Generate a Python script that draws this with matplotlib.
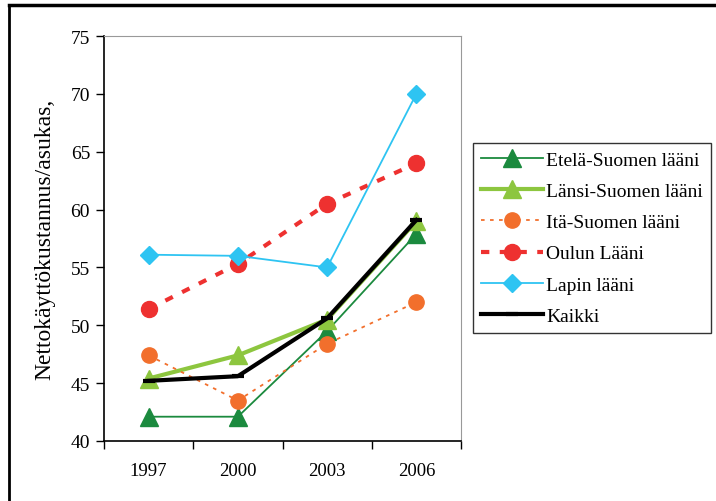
import numpy as np
import matplotlib
matplotlib.use('Agg')
from matplotlib import pyplot as plt
from matplotlib.lines import Line2D

plt.rcParams['font.family'] = ['Liberation Serif', 'DejaVu Serif']

# Vuodet ja läänien arvot
vuodet = ['1997', '2000', '2003', '2006']
etela = [42.1, 42.1, 49.5, 57.9]
lansi = [45.4, 47.4, 50.5, 59.0]
ita = [47.4, 43.5, 48.4, 52.0]
oulu = [51.4, 55.3, 60.5, 64.0]
lappi = [56.1, 56.0, 55.0, 70.0]
kaikki = [45.2, 45.6, 50.6, 59.1]

fig = plt.figure(figsize=(7.16, 5.02), dpi=100)
ax = fig.add_axes([104 / 716, 1 - 442 / 502, 357 / 716, 405 / 502])

x = np.arange(len(vuodet))

ax.plot(x, etela, color='#1b8a3e', lw=1.3, marker='^', ms=12.5, label='Etelä-Suomen lääni')
ax.plot(x, lansi, color='#8dc63f', lw=3, marker='^', ms=12.5, label='Länsi-Suomen lääni')
ax.plot(x, ita, color='#f26f2c', lw=1.3, ls=(0, (2, 3)), marker='o', ms=11, label='Itä-Suomen lääni')
ax.plot(x, oulu, color='#ee3130', lw=3, ls=(0, (2, 2.5)), marker='o', ms=11.5, label='Oulun Lääni')
ax.plot(x, lappi, color='#2ec4f2', lw=1.3, marker='D', ms=9.5, label='Lapin lääni')
ax.plot(x, kaikki, color='black', lw=3, marker='_', ms=9, mew=3, label='Kaikki')

# Akselit
ax.set_xlim(-0.5, 3.5)
ax.set_ylim(40, 75)
ax.set_yticks(np.arange(40, 76, 5))
ax.set_xticks(np.arange(-0.5, 4, 1))
ax.set_xticklabels([])
ax.set_xticks(x, minor=True)
ax.set_xticklabels(vuodet, minor=True)
ax.tick_params(axis='x', which='minor', length=0, pad=15, labelsize=13.5)
ax.tick_params(axis='x', which='major', direction='out', length=6, width=1)
ax.tick_params(axis='y', direction='out', length=6, width=1, labelsize=14, pad=4)
ax.spines['top'].set_color('#999999')
ax.spines['right'].set_color('#999999')
ax.spines['left'].set_linewidth(1.2)
ax.spines['bottom'].set_linewidth(1.2)

ax.set_ylabel('Nettokäyttökustannus/asukas,', fontsize=17, labelpad=11)

leg = ax.legend(loc='upper left', bbox_to_anchor=(473 / 716, 1 - 144 / 502),
                bbox_transform=fig.transFigure, borderaxespad=0, fontsize=14,
                frameon=True, fancybox=False, edgecolor='black', handlelength=3.2,
                labelspacing=0.7, borderpad=0.42, handletextpad=0.15)
leg.get_frame().set_linewidth(1.0)

# Kehys kuvan ympärillä
fig.add_artist(Line2D([8.5 / 716, 8.5 / 716], [0, 1 - 5.5 / 502], color='black', lw=2, transform=fig.transFigure))
fig.add_artist(Line2D([8.5 / 716, 1], [1 - 5.5 / 502, 1 - 5.5 / 502], color='black', lw=2.5, transform=fig.transFigure))

fig.savefig('out.png', dpi=100)
